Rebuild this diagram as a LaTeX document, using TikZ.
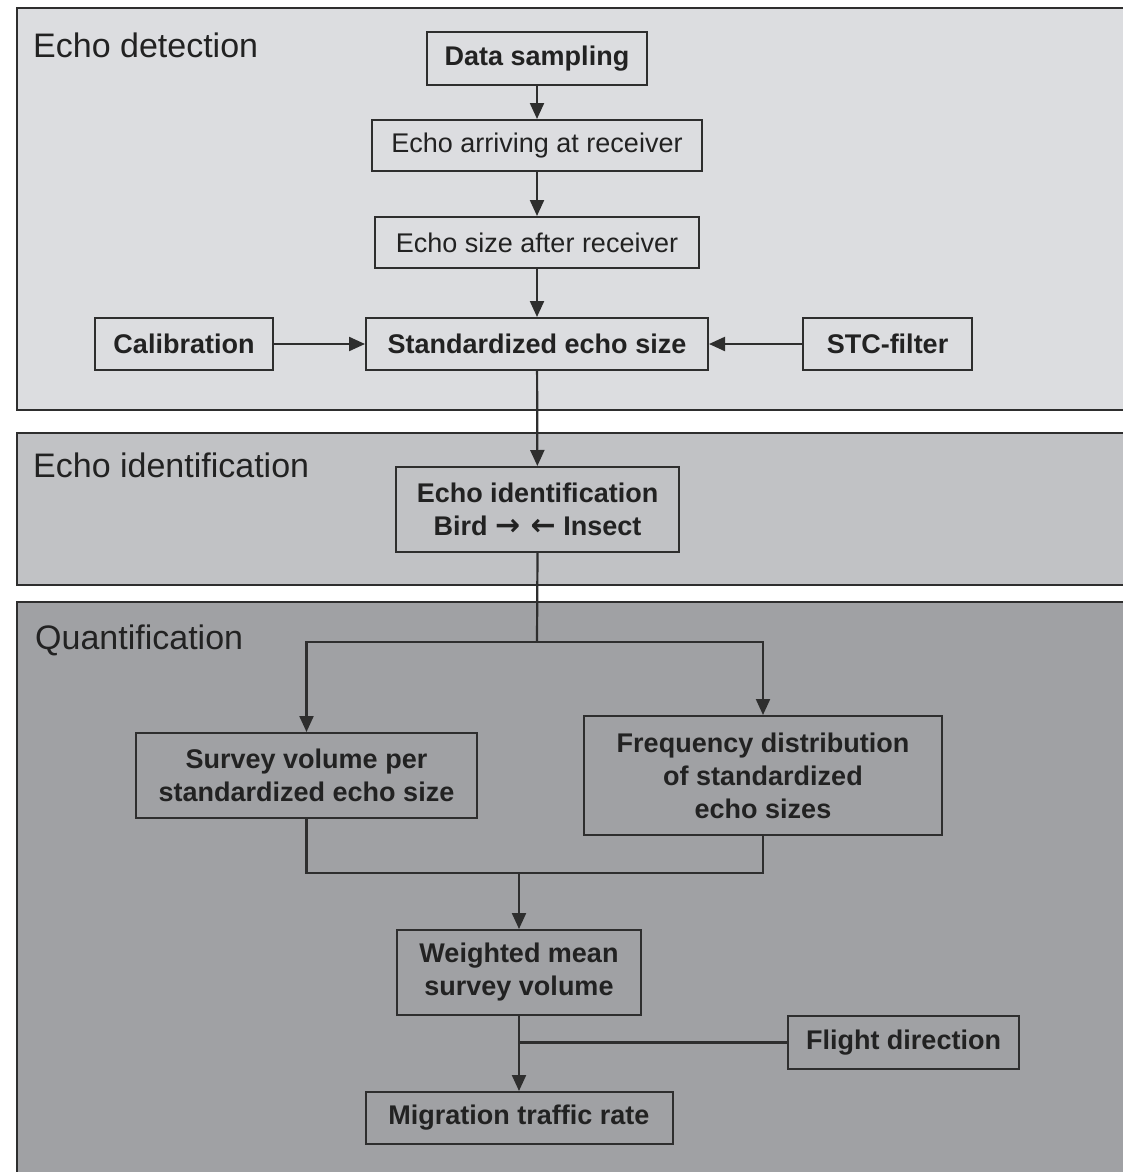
\documentclass[tikz,border=0pt]{standalone}
\usepackage{fontspec}
\setmainfont{Liberation Sans}
\newfontfamily\arrowfont{DejaVu Sans}
\usetikzlibrary{arrows.meta}
\definecolor{panelA}{HTML}{DCDDE0}
\definecolor{panelB}{HTML}{C1C2C5}
\definecolor{panelC}{HTML}{A0A1A4}
\definecolor{linec}{HTML}{2E2E2E}
\definecolor{textc}{HTML}{222222}
\begin{document}
\begin{tikzpicture}[x=1pt,y=-1pt,
  box/.style={draw=linec, line width=2pt, inner sep=0pt, align=center, text=textc,
              font=\fontsize{27}{33}\selectfont},
  boldbox/.style={box, font=\fontsize{27}{33}\selectfont\bfseries},
  arr/.style={draw=linec, line width=2.2pt, -{Triangle[length=16pt,width=14pt]}},
  ln/.style={draw=linec, line width=2.2pt},
  panel/.style={draw=linec, line width=2pt},
  paneltitle/.style={anchor=west, text=textc, font=\fontsize{34}{40}\selectfont, inner sep=0pt}]
\useasboundingbox[fill=white] (0,0) rectangle (1122,1172);
% panels
\path[panel, fill=panelA] (17,8) rectangle (1135,410);
\path[panel, fill=panelB] (17,433) rectangle (1135,585);
\path[panel, fill=panelC] (17,602) rectangle (1135,1185);
\node[paneltitle] (t1) at (33,45) {Echo detection};
\node[paneltitle] (t2) at (33,465) {Echo identification};
\node[paneltitle] (t3) at (35,640) {Quantification};
% boxes
\node[boldbox, minimum width=220pt, minimum height=53pt] (ds) at (537,58.5) {Data sampling};
\node[box, minimum width=330pt, minimum height=51pt] (ear) at (537,145.5) {Echo arriving at receiver};
\node[box, minimum width=324pt, minimum height=51pt] (esr) at (537,242.5) {Echo size after receiver};
\node[boldbox, minimum width=342pt, minimum height=52pt] (ses) at (537,344) {Standardized echo size};
\node[boldbox, minimum width=178pt, minimum height=52pt] (cal) at (184,344) {Calibration};
\node[boldbox, minimum width=169pt, minimum height=52pt] (stc) at (887.5,344) {STC-filter};
\node[boldbox, minimum width=283pt, minimum height=85pt] (eid) at (537.5,509.5) {Echo identification\\Bird {\arrowfont\bfseries\fontsize{30}{33}\selectfont → ←} Insect};
\node[boldbox, minimum width=341pt, minimum height=85pt] (svp) at (306.5,775.5) {Survey volume per\\standardized echo size};
\node[boldbox, minimum width=358pt, minimum height=119pt] (fd) at (763,775.5) {Frequency distribution\\of standardized\\echo sizes};
\node[boldbox, minimum width=244pt, minimum height=85pt] (wm) at (519,972.5) {Weighted mean\\survey volume};
\node[boldbox, minimum width=231pt, minimum height=53pt] (fl) at (903.5,1042.5) {Flight direction};
\node[boldbox, minimum width=307pt, minimum height=52pt] (mtr) at (519,1118) {Migration traffic rate};
% connectors
\draw[arr] (ds) -- (ear);
\draw[arr] (ear) -- (esr);
\draw[arr] (esr) -- (ses);
\draw[arr] (cal) -- (ses);
\draw[arr] (stc) -- (ses);
\draw[arr] (ses) -- (eid);
\coordinate (split) at (537,642);
\draw[ln] (eid.south) -- (split);
\draw[arr] (split) -| (svp.north);
\draw[arr] (split) -| (fd.north);
\coordinate (merge) at (519,873);
\draw[ln] (svp.south) |- (merge);
\draw[ln] (fd.south) |- (merge);
\draw[arr] (merge) -- (wm.north);
\draw[arr] (wm) -- (mtr);
\coordinate (fj) at (519,1042.5);
\draw[ln] (fl.west) -- (fj);
\end{tikzpicture}
\end{document}
